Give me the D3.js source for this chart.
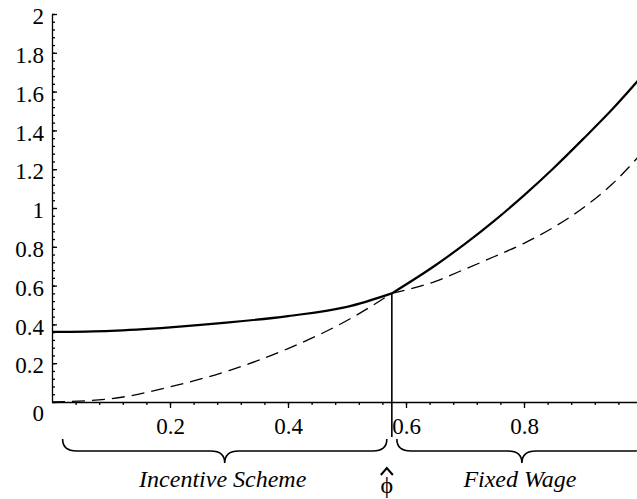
<!DOCTYPE html>
<html>
<head>
<meta charset="utf-8">
<script src="https://cdn.jsdelivr.net/npm/d3@7"></script>
</head>
<body style="margin:0">
<svg id="chart" width="637" height="499" font-family="Times New Roman"></svg>
<script>
// values
const phi        = [0, 0.1, 0.2, 0.3, 0.4, 0.5, 0.576, 0.65, 0.7, 0.75, 0.8, 0.85, 0.9, 0.95, 1.0];
const curveFlat  = [0.361, 0.367, 0.385, 0.41, 0.443, 0.49, 0.56, 0.622, 0.685, 0.75, 0.818, 0.90, 1.0, 1.125, 1.285];
const curveSteep = [0, 0.017, 0.078, 0.162, 0.275, 0.42, 0.56, 0.705, 0.815, 0.935, 1.065, 1.205, 1.355, 1.51, 1.68];
const phiHat = 0.576;
const xTicks = [0.2, 0.4, 0.6, 0.8, 1];
const yTicks = [0, 0.2, 0.4, 0.6, 0.8, 1, 1.2, 1.4, 1.6, 1.8, 2];
const regimes = ["Incentive Scheme", "Fixed Wage"];

const fontName = "'Times New Roman'";
const svg = d3.select("#chart");

const x = d3.scaleLinear().domain([0, 1]).range([52, 642]);
const y = d3.scaleLinear().domain([0, 2]).range([402, 14]);

// axes
const yMinor = d3.axisLeft(y).tickValues(d3.range(0, 2.001, 0.04)).tickFormat("").tickSizeInner(-3).tickSizeOuter(0);
svg.append("g").attr("transform", `translate(${x(0)},0)`).call(yMinor)
    .call(g => g.select(".domain").remove());
const yAxis = d3.axisLeft(y).tickValues(yTicks).tickFormat(d => d3.format("~g")(d))
    .tickSizeInner(-5).tickSizeOuter(0).tickPadding(8);
const gy = svg.append("g").attr("transform", `translate(${x(0)},0)`).call(yAxis);
gy.selectAll("text").attr("dy", "0.42em")
    .filter(d => d === 0).attr("dy", "0.8em");

const xMinor = d3.axisBottom(x).tickValues(d3.range(0.04, 1.001, 0.04)).tickFormat("").tickSizeInner(3).tickSizeOuter(0);
svg.append("g").attr("transform", `translate(0,${y(0)})`).call(xMinor)
    .call(g => g.select(".domain").remove());
const xAxis = d3.axisBottom(x).tickValues(xTicks).tickFormat(d => d3.format("~g")(d))
    .tickSizeInner(6).tickSizeOuter(0).tickPadding(10);
svg.append("g").attr("transform", `translate(0,${y(0)})`).call(xAxis);
svg.selectAll("g").attr("font-family", "Times New Roman").attr("font-size", 23);
svg.selectAll(".tick text").attr("font-family", "Times New Roman")
    .style("font-family", fontName).style("font-size", "23px");
svg.selectAll(".domain, .tick line").attr("stroke", "#000").attr("stroke-width", 1.3);

// curves, split at phiHat so the kink stays sharp
const k = phi.indexOf(phiHat);
const pts = (vals, from, to) => phi.slice(from, to).map((p, i) => [p, vals[from + i]]);
const line = d3.line().x(d => x(d[0])).y(d => y(d[1])).curve(d3.curveMonotoneX);

const solid = [pts(curveFlat, 0, k + 1), pts(curveSteep, k, phi.length)];
const dashed = [pts(curveSteep, 0, k + 1), pts(curveFlat, k, phi.length)];

svg.selectAll(".solid").data(solid).enter().append("path")
    .attr("class", "solid").attr("d", line)
    .attr("fill", "none").attr("stroke", "#000").attr("stroke-width", 2.2);
svg.selectAll(".dashed").data(dashed).enter().append("path")
    .attr("class", "dashed").attr("d", line)
    .attr("fill", "none").attr("stroke", "#000").attr("stroke-width", 1.3)
    .attr("stroke-dasharray", "13,7");

// vertical marker at phiHat
svg.append("line")
    .attr("x1", x(phiHat)).attr("x2", x(phiHat))
    .attr("y1", y(curveFlat[k])).attr("y2", 437)
    .attr("stroke", "#000").attr("stroke-width", 1.6);

// braces under the axis
function brace(x0, x1) {
    const y0 = 439, y1 = 451, y2 = 463, r = 14, xm = (x0 + x1) / 2;
    return `M${x0},${y0} Q${x0},${y1} ${x0 + r},${y1} L${xm - r},${y1} Q${xm},${y1} ${xm},${y2}`
         + ` Q${xm},${y1} ${xm + r},${y1} L${x1 - r},${y1} Q${x1},${y1} ${x1},${y0}`;
}
const spans = [[x(0.018), x(phiHat) - 5], [x(phiHat) + 5, x(1) + 5]];
svg.selectAll(".brace").data(spans).enter().append("path")
    .attr("d", d => brace(d[0], d[1]))
    .attr("fill", "none").attr("stroke", "#000").attr("stroke-width", 1.6);
svg.selectAll(".regime").data(regimes).enter().append("text")
    .attr("x", (d, i) => (spans[i][0] + spans[i][1]) / 2 - 2)
    .attr("y", 487)
    .attr("text-anchor", "middle")
    .attr("font-family", "Times New Roman")
    .style("font-family", fontName)
    .style("font-size", "24px").style("font-style", "italic")
    .text(d => d);

// phi hat label
const px = x(phiHat) - 5;
svg.append("text").attr("x", px).attr("y", 493).attr("text-anchor", "middle")
    .attr("font-family", "Times New Roman")
    .style("font-family", fontName)
    .style("font-size", "24px").text("\u03D5");
svg.append("path")
    .attr("d", `M${px - 6},${475} L${px},${468} L${px + 6},${475}`)
    .attr("fill", "none").attr("stroke", "#000").attr("stroke-width", 2);
</script>
</body>
</html>
